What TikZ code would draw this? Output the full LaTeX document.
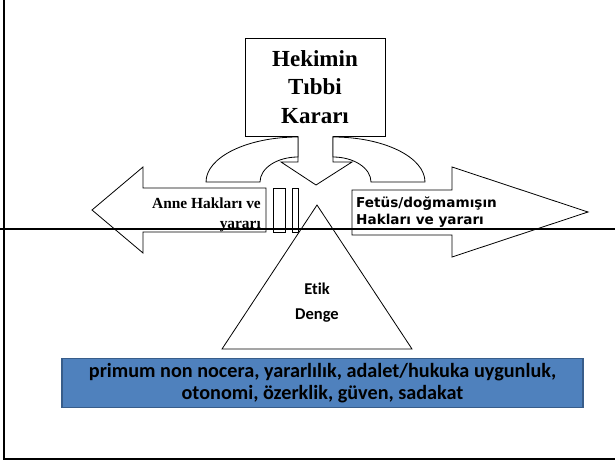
\documentclass[tikz,border=0pt]{standalone}
\usepackage{fontspec}
\setmainfont{Liberation Serif}
\newfontfamily\calibri[Ligatures=NoCommon]{Carlito}
\newfontfamily\comicfont{DejaVu Sans}
\usetikzlibrary{positioning}
\definecolor{ofisblue}{HTML}{4F81BD}
\definecolor{ofisedge}{HTML}{385D8A}
\tikzstyle{outline}=[draw=black,line width=0.8pt,fill=white]
\tikzstyle{frame}=[draw=black,line width=1.5pt]
\tikzstyle{midline}=[draw=black,line width=2pt]
\tikzstyle{kararbox}=[outline,rectangle,minimum width=140pt,minimum height=98pt,align=center,font=\fontsize{23}{28.5}\selectfont\bfseries]
\tikzstyle{annetext}=[inner sep=0pt,align=right,font=\fontsize{15.4}{20}\selectfont\bfseries]
\tikzstyle{fetustext}=[inner sep=0pt,align=left,font=\comicfont\fontsize{13.6}{17.5}\selectfont\bfseries]
\tikzstyle{etiktext}=[inner sep=0pt,align=center,font=\calibri\fontsize{16.5}{25}\selectfont\bfseries]
\tikzstyle{valuebox}=[draw=ofisedge,fill=ofisblue,line width=1.2pt,minimum width=521pt,minimum height=49pt,inner sep=0pt,align=center,font=\calibri\fontsize{20.2}{22}\selectfont\bfseries]

\begin{document}
\begin{tikzpicture}[x=1pt,y=-1pt,>=latex]
	\useasboundingbox (0,0) rectangle (615,463);
	\draw[frame] (4,0) -- (4,459) -- (615,459);

	% side arrows
	\draw[outline] (266,188) -- (143,188) -- (143,167) -- (92,210) -- (143,253) -- (143,232) -- (266,232) -- cycle;
	\draw[outline] (352,190) -- (452,190) -- (452,167) -- (588,212) -- (452,257) -- (452,235) -- (352,235) -- cycle;
	\draw[outline] (273,188) rectangle (285,232);
	\draw[outline] (292,188) rectangle (298,232);

	% decision box and its arrow
	\node[kararbox] (karar) at (315,87) {Hekimin\\Tıbbi\\Kararı};
	\draw[outline] (298,136) -- (298,162) -- (281,162) -- (316,185) -- (352,162) -- (333,162) -- (333,136);
	\draw[outline] (298,137) arc[start angle=270,end angle=180,x radius=92,y radius=45] -- (260,182) arc[start angle=180,end angle=270,x radius=38,y radius=25] -- cycle;
	\draw[outline] (333,137) arc[start angle=270,end angle=360,x radius=92,y radius=45] -- (371,182) arc[start angle=360,end angle=270,x radius=38,y radius=25] -- cycle;

	% balance
	\draw[outline] (317,205) -- (412,349) -- (222,349) -- cycle;
	\node[etiktext] (etik) at (317,303) {Etik\\Denge};

	\node[annetext, anchor=east] (anne) at (261,215) {Anne Hakları ve\\yararı};
	\node[fetustext, anchor=west] (fetus) at (356,212) {Fetüs/doğmamışın\\Hakları ve yararı};

	\draw[midline] (0,229) -- (615,229);

	\node[valuebox] (ilkeler) at (322.5,383) {primum non nocera, yararlılık, adalet/hukuka uygunluk,\\otonomi, özerklik, güven, sadakat};
\end{tikzpicture}
\end{document}
